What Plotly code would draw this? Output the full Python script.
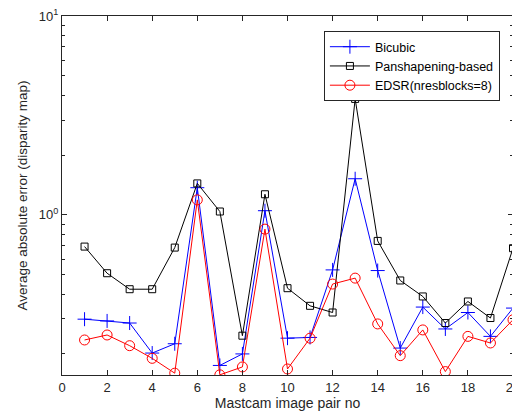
import plotly.graph_objects as go

pair_no = list(range(1, 21))

bicubic = [0.299, 0.293, 0.286, 0.202, 0.225, 1.37, 0.175, 0.200, 1.05, 0.240,
           0.242, 0.529, 1.52, 0.525, 0.214, 0.344, 0.267, 0.323, 0.245, 0.340]
pansharp = [0.693, 0.509, 0.423, 0.423, 0.685, 1.44, 1.04, 0.247, 1.27, 0.428,
            0.349, 0.323, 3.83, 0.740, 0.468, 0.389, 0.286, 0.367, 0.303, 0.680]
edsr = [0.235, 0.249, 0.220, 0.190, 0.160, 1.19, 0.157, 0.172, 0.848, 0.168,
        0.240, 0.449, 0.481, 0.283, 0.196, 0.264, 0.163, 0.245, 0.227, 0.297]

series_names = ["Bicubic", "Panshapening-based", "EDSR(nresblocks=8)"]

x_ticks = [0, 2, 4, 6, 8, 10, 12, 14, 16, 18, 20]
y_ticks = [1, 10]
y_ticktext = ["10<sup>0</sup>", "10<sup>1</sup>"]
y_minor = [0.2, 0.3, 0.4, 0.5, 0.6, 0.7, 0.8, 0.9, 2, 3, 4, 5, 6, 7, 8, 9]

axis_col = "#262626"
FONT = "Liberation Sans, Arial, sans-serif"

fig = go.Figure()

fig.add_trace(go.Scatter(
    x=pair_no, y=bicubic, name=series_names[0], mode="lines+markers",
    line=dict(color="#0000ff", width=1),
    marker=dict(symbol="cross-thin-open", size=10, color="#0000ff",
                line=dict(color="#0000ff", width=1)),
))
fig.add_trace(go.Scatter(
    x=pair_no, y=pansharp, name=series_names[1], mode="lines+markers",
    line=dict(color="#000000", width=1),
    marker=dict(symbol="square-open", size=7, color="#000000",
                line=dict(color="#000000", width=1)),
))
fig.add_trace(go.Scatter(
    x=pair_no, y=edsr, name=series_names[2], mode="lines+markers",
    line=dict(color="#ff0000", width=1),
    marker=dict(symbol="circle-open", size=10, color="#ff0000",
                line=dict(color="#ff0000", width=1)),
))

# the page body has an 8px margin, so the figure is shrunk by that much
fig.update_layout(
    width=512, height=408,
    paper_bgcolor="white", plot_bgcolor="white",
    font=dict(family=FONT, size=13, color=axis_col),
    margin=dict(l=54, r=7, t=8, b=41),
    showlegend=True,
    legend=dict(
        x=0.971, xanchor="right", y=0.958, yanchor="top",
        bgcolor="white", bordercolor=axis_col, borderwidth=1,
        font=dict(size=12.5, color="#000000"),
        tracegroupgap=0, itemwidth=40,
    ),
    xaxis=dict(
        range=[0, 20], tickvals=x_ticks, automargin=False,
        ticklabeloverflow="allow",
        ticks="inside", ticklen=5, tickcolor=axis_col,
        showline=True, linecolor=axis_col, linewidth=1, mirror="ticks",
        showgrid=False, zeroline=False,
        title=dict(text="Mastcam image pair no", standoff=4, font=dict(size=14)),
        tickfont=dict(size=13),
    ),
    yaxis=dict(
        type="log", range=[-0.805, 1.0001], automargin=False,
        ticklabeloverflow="allow",
        tickvals=y_ticks, ticktext=y_ticktext,
        ticks="inside", ticklen=5, tickcolor=axis_col,
        minor=dict(tickvals=y_minor, ticks="inside", ticklen=3, tickcolor=axis_col),
        showline=True, linecolor=axis_col, linewidth=1, mirror="ticks",
        showgrid=False, zeroline=False,
        title=dict(text="Average absolute error (disparity map)", standoff=8,
                   font=dict(size=13.5)),
        tickfont=dict(size=13),
    ),
)

fig.write_html("out.html")
